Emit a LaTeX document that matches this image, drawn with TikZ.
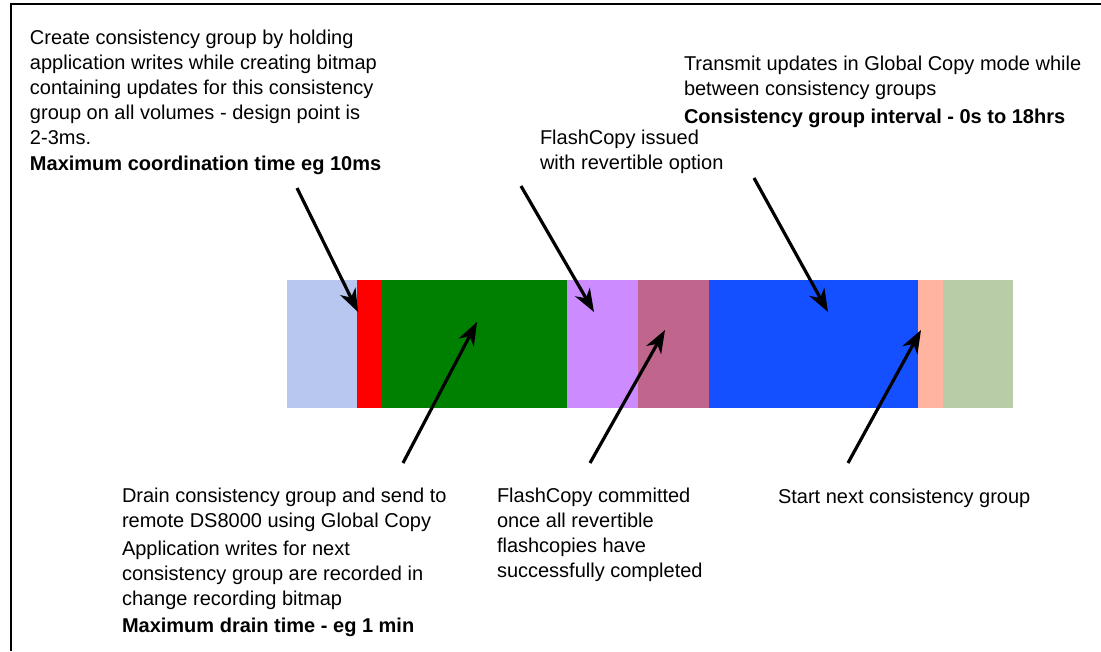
\documentclass[tikz,border=0pt]{standalone}
\usepackage{fontspec}
\setmainfont{Liberation Sans}
\usetikzlibrary{arrows.meta}
\definecolor{hblue}{HTML}{B7C7EF}
\definecolor{cgred}{HTML}{FF0000}
\definecolor{cggreen}{HTML}{008000}
\definecolor{lilac}{HTML}{CC8CFF}
\definecolor{mauve}{HTML}{C0668C}
\definecolor{cgblue}{HTML}{1450FF}
\definecolor{hsalmon}{HTML}{FFB4A0}
\definecolor{hgreen}{HTML}{B8CCA8}
\tikzset{
  seg/.style={draw=none, inner sep=0pt, outer sep=0pt, minimum height=128pt, anchor=north west},
  lbl/.style={anchor=base west, inner sep=0pt, outer sep=0pt, align=left, font=\fontsize{20pt}{25pt}\selectfont},
  ptr/.style={line width=3.2pt, -{Stealth[length=23pt,width=17pt,inset=7pt]}},
}
\begin{document}
\begin{tikzpicture}[x=1pt,y=-1pt]
\useasboundingbox (0,0) rectangle (1101,651);
% frame
\draw[line width=1.6pt] (11,651) -- (11,4) -- (1101,4);
% bar segments
\node[seg, fill=hblue,   minimum width=70pt]  (s1) at (287,280) {};
\node[seg, fill=cgred,   minimum width=25pt]  (s2) at (357,280) {};
\node[seg, fill=cggreen, minimum width=185pt] (s3) at (382,280) {};
\node[seg, fill=lilac,   minimum width=71pt]  (s4) at (567,280) {};
\node[seg, fill=mauve,   minimum width=71pt]  (s5) at (638,280) {};
\node[seg, fill=cgblue,  minimum width=209pt] (s6) at (709,280) {};
\node[seg, fill=hsalmon, minimum width=25pt]  (s7) at (918,280) {};
\node[seg, fill=hgreen,  minimum width=70pt]  (s8) at (943,280) {};
% texts (anchored at the baseline of the last line)
\node[lbl] (t1) at (30,170) {Create consistency group by holding\\application writes while creating bitmap\\containing updates for this consistency\\group on all volumes - design point is\\2-3ms.\\[1pt]\textbf{Maximum coordination time eg 10ms}};
\node[lbl] (t2) at (540,169) {FlashCopy issued\\with revertible option};
\node[lbl] (t3) at (684,123) {Transmit updates in Global Copy mode while\\between consistency groups\\[3pt]\textbf{Consistency group interval - 0s to 18hrs}};
\node[lbl] (t4) at (122,632) {Drain consistency group and send to\\remote DS8000 using Global Copy\\[3pt]Application writes for next\\consistency group are recorded in\\change recording bitmap\\[2pt]\textbf{Maximum drain time - eg 1 min}};
\node[lbl] (t5) at (497,577) {FlashCopy committed\\once all revertible\\flashcopies have\\successfully completed};
\node[lbl] (t6) at (778,503) {Start next consistency group};
% arrow end points
\coordinate (a1) at (297,188);
\coordinate (b1) at (358,312);
\coordinate (a2) at (521,186);
\coordinate (b2) at (594,312);
\coordinate (a3) at (754,178);
\coordinate (b3) at (828,312);
\coordinate (a4) at (403,463);
\coordinate (b4) at (477,322);
\coordinate (a5) at (590,463);
\coordinate (b5) at (665,330);
\coordinate (a6) at (848,463);
\coordinate (b6) at (921,330);
\draw[ptr] (a1) -- (b1);
\draw[ptr] (a2) -- (b2);
\draw[ptr] (a3) -- (b3);
\draw[ptr] (a4) -- (b4);
\draw[ptr] (a5) -- (b5);
\draw[ptr] (a6) -- (b6);
\end{tikzpicture}
\end{document}
